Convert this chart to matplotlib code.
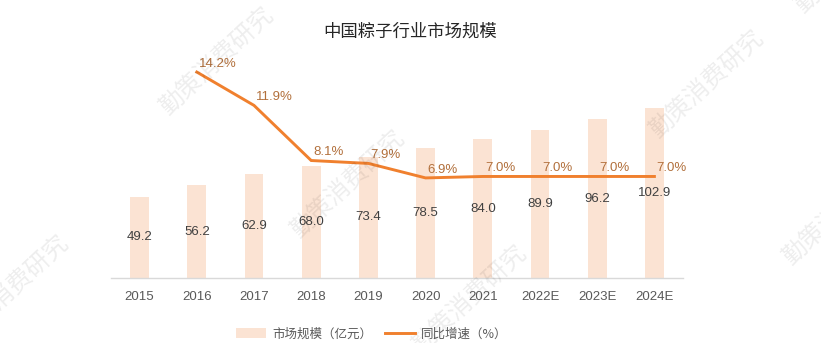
import matplotlib
matplotlib.use("Agg")
import matplotlib.pyplot as plt
import numpy as np

plt.rcParams['font.family'] = ['Liberation Sans', 'Noto Sans CJK SC', 'DejaVu Sans']

# Data
years = ['2015', '2016', '2017', '2018', '2019', '2020', '2021', '2022E', '2023E', '2024E']
market_size = [49.2, 56.2, 62.9, 68.0, 73.4, 78.5, 84.0, 89.9, 96.2, 102.9]
growth = [None, 14.2, 11.9, 8.1, 7.9, 6.9, 7.0, 7.0, 7.0, 7.0]
title = '中国粽子行业市场规模'
bar_label = '市场规模（亿元）'
line_label = '同比增速（%）'

BAR_COLOR = '#FBE3D3'
LINE_COLOR = '#F0802E'
PCT_COLOR = '#B2703C'
TEXT_DARK = '#404040'
TICK_COLOR = '#595959'

W, H = 821, 343
fig = plt.figure(figsize=(W / 100, H / 100), dpi=100)

# Diagonal watermark text
def watermark(cx, cy, text='勤策消费研究', angle=43):
    fig.text(cx / W, 1 - cy / H, text, rotation=angle, ha='center', va='center',
             rotation_mode='anchor', fontsize=17.5, color='#000000', alpha=0.07,
             family=['Noto Sans CJK SC'], zorder=0)

for cx, cy in [(217, 62), (348, 185), (470, 300), (707, 85), (840, 212),
               (12, 290), (852, -40)]:
    watermark(cx, cy)

left, right = 111 / W, 683 / W
bottom, top = (H - 278) / H, (H - 60) / H
ax = fig.add_axes([left, bottom, right - left, top - bottom])
ax.patch.set_alpha(0)

x = np.arange(len(years))
bars = ax.bar(x, market_size, width=0.33, color=BAR_COLOR, zorder=2, label=bar_label)
ax.set_xlim(-0.5, len(years) - 0.5)
ax.set_ylim(0, 132)

for xi, v in zip(x, market_size):
    ax.text(xi, v / 2, f'{v:.1f}', ha='center', va='center', fontsize=9.5,
            color=TEXT_DARK, zorder=5)

ax.set_xticks(x)
ax.set_xticklabels(years, fontsize=9.5, color=TICK_COLOR)
ax.tick_params(axis='x', length=0, pad=9)
ax.set_yticks([])
for s in ['top', 'right', 'left']:
    ax.spines[s].set_visible(False)
ax.spines['bottom'].set_color('#D9D9D9')
ax.spines['bottom'].set_linewidth(1.0)

ax2 = ax.twinx()
ax2.set_ylim(0, 15.03)
gx = [xi for xi, g in zip(x, growth) if g is not None]
gy = [g for g in growth if g is not None]
line, = ax2.plot(gx, gy, color=LINE_COLOR, lw=2.1, zorder=4, label=line_label,
                 solid_joinstyle='miter')
for xi, g in zip(gx, gy):
    ax2.annotate(f'{g:.1f}%', (xi, g), xytext=(1.5, 6), textcoords='offset points',
                 ha='left', va='center', fontsize=9.5, color=PCT_COLOR,
                 annotation_clip=False)
ax2.set_yticks([])
for s in ['top', 'right', 'left', 'bottom']:
    ax2.spines[s].set_visible(False)

fig.text(0.5, 1 - 32 / H, title, ha='center', va='center', fontsize=12.5,
         color='#262626', family=['Noto Sans CJK SC', 'DejaVu Sans'])

fig.legend([bars, line], [bar_label, line_label], loc='center',
           bbox_to_anchor=(372 / W, 1 - 334 / H), ncol=2, frameon=False,
           labelcolor=TICK_COLOR, handlelength=2.4, handleheight=0.8,
           columnspacing=1.0, handletextpad=0.5,
           prop={'family': ['Noto Sans CJK SC', 'DejaVu Sans'], 'size': 9})

fig.savefig('out.png', dpi=100, facecolor='white')
